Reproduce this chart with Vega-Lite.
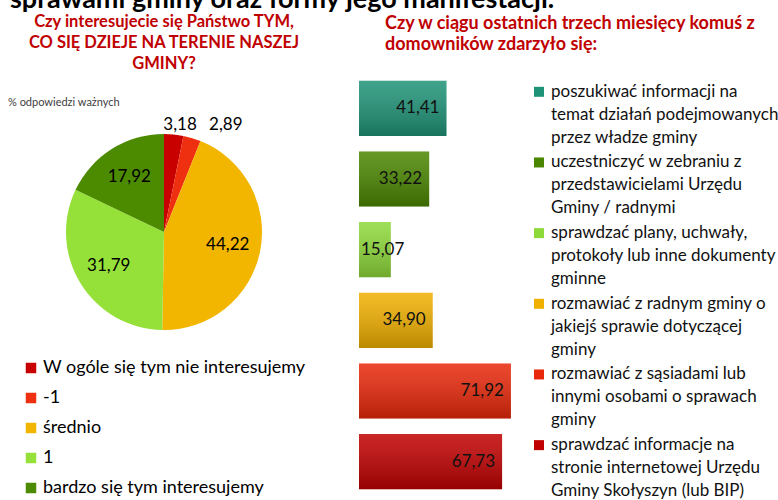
{
  "$schema": "https://vega.github.io/schema/vega-lite/v6.json",
  "padding": {"left": 8, "top": -15, "right": 0, "bottom": 0},
  "background": "white",
  "config": {
    "view": {"stroke": null},
    "font": "Lato",
    "locale": {"number": {"decimal": ",", "thousands": " ", "grouping": [3], "currency": ["", " zł"]}}
  },
  "title": {"text": "sprawami gminy oraz formy jego manifestacji.", "anchor": "start", "fontSize": 27, "fontWeight": "bold", "color": "#000000", "dx": 2, "offset": 0},
  "datasets": {
    "pie": [
      {"nr": 1, "odp": "W ogóle się tym nie interesujemy", "v": 3.18},
      {"nr": 2, "odp": "-1", "v": 2.89},
      {"nr": 3, "odp": "średnio", "v": 44.22},
      {"nr": 4, "odp": "1", "v": 31.79},
      {"nr": 5, "odp": "bardzo się tym interesujemy", "v": 17.92}
    ],
    "bars": [
      {"akt": "poszukiwać informacji na\ntemat działań podejmowanych\nprzez władze gminy", "v": 41.41},
      {"akt": "uczestniczyć w zebraniu z\nprzedstawicielami Urzędu\nGminy / radnymi", "v": 33.22},
      {"akt": "sprawdzać plany, uchwały,\nprotokoły lub inne dokumenty\ngminne", "v": 15.07},
      {"akt": "rozmawiać z radnym gminy o\njakiejś sprawie dotyczącej\ngminy", "v": 34.90},
      {"akt": "rozmawiać z sąsiadami lub\ninnymi osobami o sprawach\ngminy", "v": 71.92},
      {"akt": "sprawdzać informacje na\nstronie internetowej Urzędu\nGminy Skołyszyn (lub BIP)", "v": 67.73}
    ]
  },
  "resolve": {"scale": {"color": "independent", "x": "independent", "y": "independent", "theta": "independent"}},
  "spacing": 39,
  "hconcat": [
    {
      "title": {"text": ["Czy interesujecie się Państwo TYM,", "CO SIĘ DZIEJE NA TERENIE NASZEJ", "GMINY?"], "color": "#c00000", "fontSize": 16.5, "fontWeight": "bold", "lineHeight": 21, "anchor": "middle", "offset": 1},
      "vconcat": [
        {
          "title": {"text": "% odpowiedzi ważnych", "anchor": "start", "fontSize": 11, "fontWeight": "normal", "color": "#404040", "offset": -35},
          "width": 312,
          "height": 318,
          "data": {"name": "pie"},
          "encoding": {
            "theta": {"field": "v", "type": "quantitative", "stack": true},
            "order": {"field": "nr", "type": "quantitative"}
          },
          "layer": [
            {
              "mark": {"type": "arc", "radius": 98},
              "encoding": {
                "color": {
                  "field": "odp", "type": "nominal",
                  "scale": {"domain": ["W ogóle się tym nie interesujemy", "-1", "średnio", "1", "bardzo się tym interesujemy"], "range": ["#c80000", "#ee3010", "#f2b600", "#96e03a", "#4c8a00"]},
                  "legend": {"orient": "none", "legendX": 14, "legendY": 286, "direction": "vertical", "title": null, "symbolType": "square", "symbolSize": 110, "symbolStrokeWidth": 0, "labelFontSize": 18, "labelFont": "Lato", "labelColor": "#000000", "rowPadding": 12, "labelLimit": 400, "labelOffset": 3}
                }
              }
            },
            {
              "mark": {"type": "text", "radius": 65, "fontSize": 17, "color": "#000000"},
              "encoding": {"text": {"condition": {"test": "datum.v >= 5", "field": "v", "type": "quantitative", "format": ".2f"}, "value": ""}}
            },
            {
              "mark": {"type": "text", "radius": 108, "fontSize": 17, "color": "#000000", "align": "right", "dx": 22},
              "encoding": {"text": {"condition": {"test": "datum.nr == 1", "field": "v", "type": "quantitative", "format": ".2f"}, "value": ""}}
            },
            {
              "mark": {"type": "text", "radius": 112, "fontSize": 17, "color": "#000000", "align": "left", "dx": 13},
              "encoding": {"text": {"condition": {"test": "datum.nr == 2", "field": "v", "type": "quantitative", "format": ".2f"}, "value": ""}}
            }
          ]
        }
      ]
    },
    {
      "title": {"text": ["Czy w ciągu ostatnich trzech miesięcy komuś z", "domowników zdarzyło się:"], "color": "#c00000", "fontSize": 18, "fontWeight": "bold", "lineHeight": 21, "anchor": "start", "dx": 26, "offset": 19},
      "spacing": 6,
      "resolve": {"scale": {"x": "independent"}},
      "hconcat": [
        {
          "width": 169,
          "height": 424,
          "data": {"name": "bars"},
          "encoding": {
            "y": {"field": "akt", "type": "nominal", "sort": null, "axis": null, "scale": {"paddingInner": 0.22, "paddingOuter": 0.11}}
          },
          "layer": [
            {
              "mark": {"type": "bar"},
              "encoding": {
                "x": {"field": "v", "type": "quantitative", "axis": null, "scale": {"domain": [0, 80], "nice": false}},
                "color": {"field": "akt", "type": "nominal", "sort": null, "legend": null, "scale": {"range": ["#1f9377", "#4a8600", "#8ed93a", "#f0b000", "#e8280a", "#c00000"]}}
              }
            },
            {
              "mark": {"type": "bar", "fill": {"gradient": "linear", "x1": 0, "y1": 0, "x2": 0, "y2": 1, "stops": [{"offset": 0, "color": "rgba(255,255,255,0.15)"}, {"offset": 1, "color": "rgba(0,0,0,0.22)"}]}},
              "encoding": {"x": {"field": "v", "type": "quantitative"}}
            },
            {
              "transform": [{"filter": "datum.v >= 20"}],
              "mark": {"type": "text", "align": "right", "dx": -7, "fontSize": 17, "color": "#111111"},
              "encoding": {"x": {"field": "v", "type": "quantitative"}, "text": {"field": "v", "type": "quantitative", "format": ".2f"}}
            },
            {
              "transform": [{"filter": "datum.v < 20"}],
              "mark": {"type": "text", "align": "left", "dx": 2, "fontSize": 17, "color": "#111111"},
              "encoding": {"x": {"datum": 0, "type": "quantitative"}, "text": {"field": "v", "type": "quantitative", "format": ".2f"}}
            }
          ]
        },
        {
          "width": 240,
          "height": 424,
          "data": {"name": "bars"},
          "layer": [
            {
              "mark": {"type": "square", "size": 100, "opacity": 1},
              "encoding": {
                "x": {"datum": 0, "type": "quantitative", "axis": null, "scale": {"domain": [0, 1]}},
                "y": {"field": "akt", "type": "nominal", "sort": null, "axis": null, "bandPosition": 0.2, "scale": {"type": "band", "paddingInner": 0.22, "paddingOuter": 0.11}},
                "color": {"field": "akt", "type": "nominal", "sort": null, "legend": null}
              }
            },
            {
              "mark": {"type": "text", "align": "left", "baseline": "top", "dx": 12, "dy": 3, "fontSize": 17, "lineBreak": "\n", "lineHeight": 23, "color": "#111111"},
              "encoding": {
                "x": {"datum": 0, "type": "quantitative"},
                "y": {"field": "akt", "type": "nominal", "sort": null, "bandPosition": 0},
                "text": {"field": "akt", "type": "nominal"}
              }
            }
          ]
        }
      ]
    }
  ]
}
